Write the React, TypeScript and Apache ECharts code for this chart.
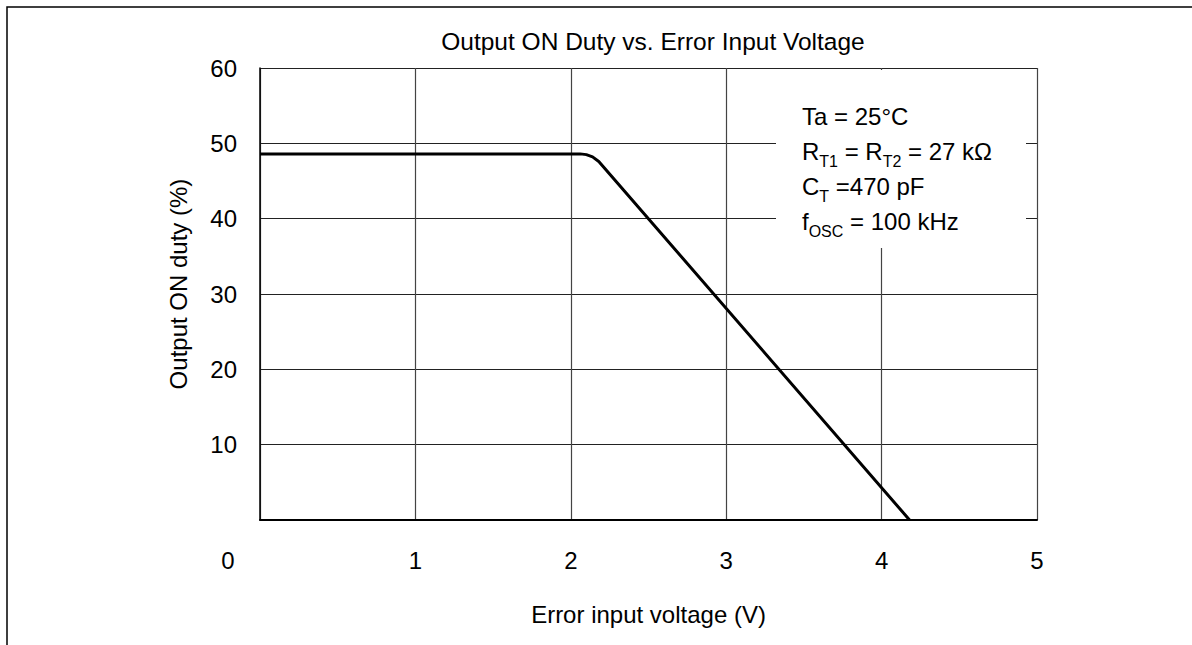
import React, { useEffect, useRef } from "react";
import * as echarts from "echarts";

const titleText = "Output ON Duty vs. Error Input Voltage";
const xName = "Error input voltage (V)";
const yName = "Output ON duty (%)";
const voltage = [0, 2.06, 2.1, 2.14, 2.18, 4.18];
const duty = [48.6, 48.6, 48.5, 48.2, 47.6, 0];
const conditions = [
  "Ta = 25°C",
  "R{s|T1} = R{s|T2} = 27 kΩ",
  "C{s|T} =470 pF",
  "f{s|OSC} = 100 kHz",
];

const FONT = "Arial, 'Liberation Sans', Helvetica, sans-serif";

export default function App() {
  const ref = useRef<HTMLDivElement>(null);
  useEffect(() => {
    document.body.style.margin = "0";
    const chart = echarts.init(ref.current!, null, { renderer: "svg" });
    const data = voltage.map((v, i) => [v, duty[i]]);
    chart.setOption({
      animation: false,
      backgroundColor: "#ffffff",
      textStyle: { fontFamily: FONT, color: "#000" },
      title: {
        text: titleText,
        left: 648,
        top: 24,
        textAlign: "center",
        textStyle: { fontFamily: FONT, fontSize: 24.5, fontWeight: "normal", color: "#000" },
      },
      grid: { left: 260, top: 68, right: 155, bottom: 125, containLabel: false },
      xAxis: {
        type: "value",
        min: 0,
        max: 5,
        interval: 1,
        name: xName,
        nameLocation: "middle",
        nameGap: 82,
        nameTextStyle: { fontFamily: FONT, fontSize: 24, color: "#000" },
        axisLine: { show: true, onZero: false, lineStyle: { color: "#000", width: 2 } },
        axisTick: { show: false },
        axisLabel: {
          margin: 28,
          fontFamily: FONT,
          fontSize: 24,
          color: "#000",
          formatter: (v: number) => (v === 0 ? "{z|0}" : String(v)),
          rich: { z: { fontFamily: FONT, fontSize: 24, color: "#000", padding: [0, 64, 0, 0] } },
        },
        splitLine: { show: true, lineStyle: { color: "#444", width: 1.2 } },
      },
      yAxis: {
        type: "value",
        min: 0,
        max: 60,
        interval: 10,
        name: yName,
        nameLocation: "middle",
        nameRotate: 90,
        nameGap: 70,
        nameTextStyle: { fontFamily: FONT, fontSize: 24, color: "#000", padding: [0, 0, 0, 20] },
        axisLine: { show: true, onZero: false, lineStyle: { color: "#000", width: 1.5 } },
        axisTick: { show: false },
        axisLabel: {
          margin: 23,
          fontFamily: FONT,
          fontSize: 24,
          color: "#000",
          formatter: (v: number) => (v === 0 ? "" : String(v)),
        },
        splitLine: { show: true, lineStyle: { color: "#222", width: 1.2 } },
      },
      series: [
        {
          type: "line",
          data,
          showSymbol: false,
          symbol: "none",
          lineStyle: { color: "#000", width: 3 },
          z: 3,
        },
      ],
      graphic: [
        {
          type: "rect",
          shape: { x: 7, y: 7, width: 1400, height: 800 },
          style: { fill: "none", stroke: "#000", lineWidth: 1.5 },
          z: 1,
          silent: true,
        },
        {
          type: "rect",
          shape: { x: 776, y: 70, width: 250, height: 178 },
          style: { fill: "#fff", stroke: "none" },
          z: 10,
          silent: true,
        },
        {
          type: "text",
          x: 802,
          y: 99,
          z: 11,
          silent: true,
          style: {
            text: conditions.join("\n"),
            fontFamily: FONT,
            fontSize: 24,
            lineHeight: 35,
            fill: "#000",
            verticalAlign: "top",
            align: "left",
            rich: {
              s: { fontFamily: FONT, fontSize: 16, lineHeight: 16, verticalAlign: "bottom", fill: "#000" },
            },
          },
        },
      ],
    });
    return () => chart.dispose();
  }, []);
  return <div ref={ref} style={{ width: 1192, height: 645 }} />;
}
